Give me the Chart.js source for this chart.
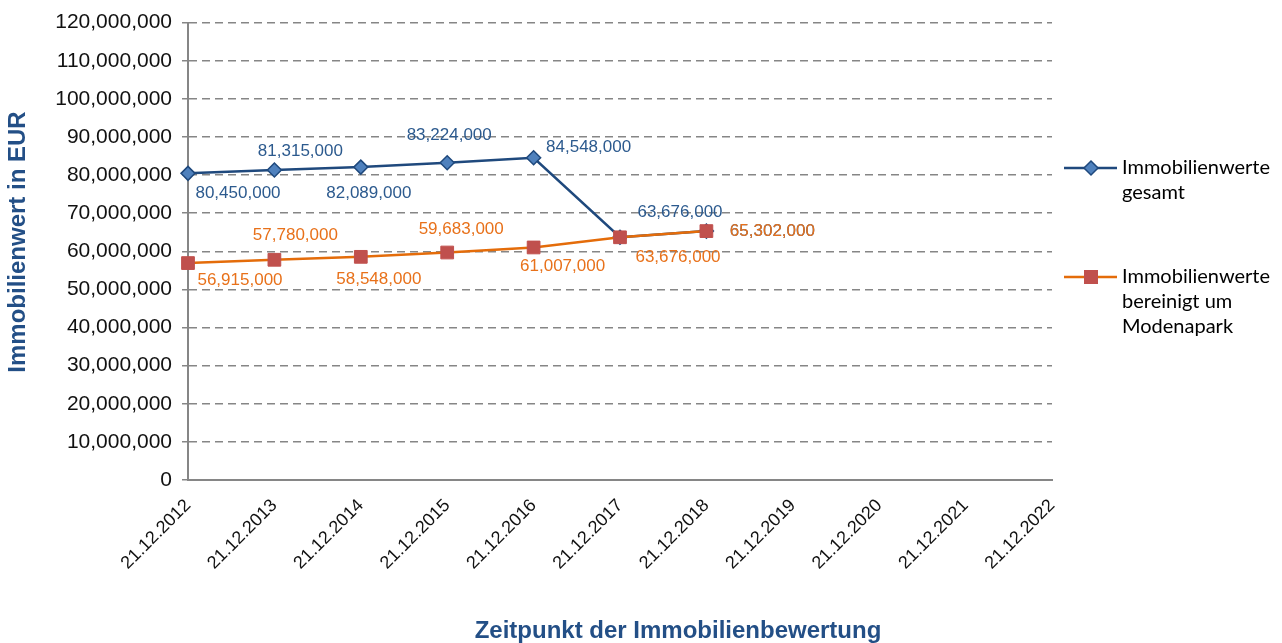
<!DOCTYPE html>
<html>
<head>
<meta charset="utf-8">
<script src="https://cdn.jsdelivr.net/npm/chart.js@4/dist/chart.umd.min.js"></script>
<style>
  html, body { margin: 0; padding: 0; background: #fff; }
  canvas { display: block; }
</style>
</head>
<body>
<canvas id="chart" width="1282" height="643"></canvas>
<script>
// Data
const dates = [
  "21.12.2012", "21.12.2013", "21.12.2014", "21.12.2015", "21.12.2016", "21.12.2017",
  "21.12.2018", "21.12.2019", "21.12.2020", "21.12.2021", "21.12.2022"
];
const gesamt = [80450000, 81315000, 82089000, 83224000, 84548000, 63676000, 65302000];
const bereinigt = [56915000, 57780000, 58548000, 59683000, 61007000, 63676000, 65302000];
const yMin = 0;
const yMax = 120000000;
const yStep = 10000000;
const gesamtName = ["Immobilienwerte", "gesamt"];
const bereinigtName = ["Immobilienwerte", "bereinigt um", "Modenapark"];
const yTitle = "Immobilienwert in EUR";
const xTitle = "Zeitpunkt der Immobilienbewertung";

// Label placement (pixel offsets from each point)
const gesamtLabelPos = [[50, 20], [26, -19], [8, 26], [2, -27], [55, -10], [60, -25], [66, 0]];
const bereinigtLabelPos = [[52, 17], [21, -24], [18, 22], [14, -23], [29, 19], [58, 20], [66, 0]];

const BLUE_LINE = "#1F497D";
const BLUE_FILL = "#4F81BD";
const BLUE_TEXT = "#2C5A8E";
const ORANGE_LINE = "#E46C0A";
const ORANGE_TEXT = "#E8711A";
const RED_FILL = "#C0504D";
const TITLE_BLUE = "#234F86";
const GRID = "#868686";

const fmt = (v) => v.toLocaleString("en-US");

// data labels
const labelPlugin = {
  id: "pointLabels",
  afterDatasetsDraw(chart) {
    const ctx = chart.ctx;
    const sets = [
      { idx: 1, pos: gesamtLabelPos, color: BLUE_TEXT },
      { idx: 0, pos: bereinigtLabelPos, color: ORANGE_TEXT },
    ];
    ctx.save();
    ctx.font = "17px 'Liberation Sans', Arial, sans-serif";
    ctx.textAlign = "center";
    ctx.textBaseline = "middle";
    sets.forEach((s) => {
      const meta = chart.getDatasetMeta(s.idx);
      const values = chart.data.datasets[s.idx].data;
      ctx.fillStyle = s.color;
      meta.data.forEach((pt, i) => {
        const off = s.pos[i];
        ctx.fillText(fmt(values[i]), pt.x + off[0], pt.y + off[1]);
      });
    });
    ctx.restore();
  },
};

// legend + axis titles
const decorPlugin = {
  id: "decor",
  afterDraw(chart) {
    const ctx = chart.ctx;
    const area = chart.chartArea;
    ctx.save();

    // y title
    ctx.font = "bold 24px 'Liberation Sans', Arial, sans-serif";
    ctx.fillStyle = TITLE_BLUE;
    ctx.textAlign = "center";
    ctx.textBaseline = "middle";
    ctx.save();
    ctx.translate(18, 242);
    ctx.rotate(-Math.PI / 2);
    ctx.fillText(yTitle, 0, 0);
    ctx.restore();

    // x title
    ctx.fillText(xTitle, 678, 631);

    // legend
    const lx = area.right + 12;
    const entries = [
      { name: gesamtName, y: 168, line: BLUE_LINE, draw: (x, y) => {
          ctx.beginPath();
          ctx.moveTo(x, y - 7); ctx.lineTo(x + 7, y); ctx.lineTo(x, y + 7); ctx.lineTo(x - 7, y);
          ctx.closePath();
          ctx.fillStyle = BLUE_FILL; ctx.fill();
          ctx.lineWidth = 1.5; ctx.strokeStyle = BLUE_LINE; ctx.stroke();
        } },
      { name: bereinigtName, y: 277, line: ORANGE_LINE, draw: (x, y) => {
          ctx.fillStyle = RED_FILL;
          ctx.fillRect(x - 7, y - 7, 14, 14);
        } },
    ];
    entries.forEach((e) => {
      ctx.lineWidth = 2.5;
      ctx.strokeStyle = e.line;
      ctx.beginPath();
      ctx.moveTo(lx, e.y);
      ctx.lineTo(lx + 53, e.y);
      ctx.stroke();
      e.draw(lx + 27, e.y);
      ctx.fillStyle = "#000";
      ctx.font = "20px Lato, 'Open Sans', sans-serif";
      ctx.textAlign = "left";
      ctx.textBaseline = "middle";
      e.name.forEach((t, i) => ctx.fillText(t, lx + 58, e.y + i * 25));
    });
    ctx.restore();
  },
};

new Chart(document.getElementById("chart"), {
  type: "line",
  data: {
    labels: dates,
    datasets: [
      {
        label: bereinigtName.join(" "),
        data: bereinigt,
        borderColor: ORANGE_LINE,
        borderWidth: 2.5,
        pointStyle: "rect",
        pointRadius: 9,
        pointBackgroundColor: RED_FILL,
        pointBorderColor: RED_FILL,
        pointBorderWidth: 1,
        tension: 0,
        order: 0,
      },
      {
        label: gesamtName.join(" "),
        data: gesamt,
        borderColor: BLUE_LINE,
        borderWidth: 2.5,
        pointStyle: "rectRot",
        pointRadius: 7,
        pointBackgroundColor: BLUE_FILL,
        pointBorderColor: BLUE_LINE,
        pointBorderWidth: 1.5,
        tension: 0,
        order: 1,
      },
    ],
  },
  options: {
    responsive: false,
    animation: false,
    devicePixelRatio: 1,
    layout: { padding: { left: 0, top: 20, right: 230, bottom: 0 } },
    plugins: {
      legend: { display: false },
      tooltip: { enabled: false },
    },
    scales: {
      x: {
        type: "category",
        offset: false,
        afterFit: (scale) => { scale.height = 163; },
        grid: { display: false },
        border: { display: true, color: GRID, width: 2 },
        ticks: {
          autoSkip: false,
          minRotation: 45,
          maxRotation: 45,
          padding: 7,
          color: "#111",
          font: { family: "'Liberation Sans', Arial, sans-serif", size: 18 },
        },
      },
      y: {
        min: yMin,
        max: yMax,
        afterFit: (scale) => { scale.width = 188; },
        grid: {
          color: GRID,
          lineWidth: 1.5,
          drawTicks: true,
          tickLength: 6,
          tickColor: GRID,
        },
        border: { display: true, color: GRID, width: 2, dash: [8, 5] },
        ticks: {
          stepSize: yStep,
          padding: 10,
          color: "#111",
          font: { family: "'Liberation Sans', Arial, sans-serif", size: 21 },
          callback: (v) => fmt(v),
        },
      },
    },
  },
  plugins: [labelPlugin, decorPlugin],
});
</script>
</body>
</html>
